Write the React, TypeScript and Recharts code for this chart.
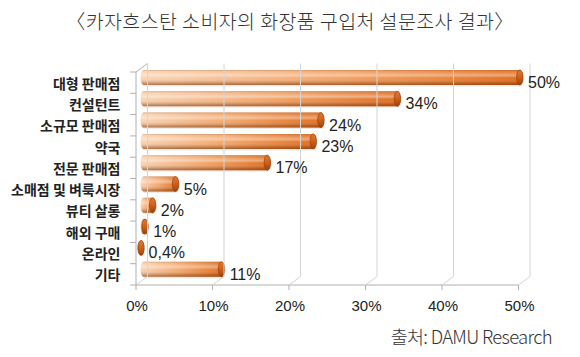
import React from 'react';
import { BarChart, Bar, XAxis, YAxis, LabelList } from 'recharts';

const categories = ['대형 판매점', '컨설턴트', '소규모 판매점', '약국', '전문 판매점', '소매점 및 벼룩시장', '뷰티 살롱', '해외 구매', '온라인', '기타'];
const shares = [50, 34, 24, 23, 17, 5, 2, 1, 0.4, 11];
const shareLabels = ['50%', '34%', '24%', '23%', '17%', '5%', '2%', '1%', '0,4%', '11%'];
const xTicks = [0, 10, 20, 30, 40, 50];
const xTickLabels = ['0%', '10%', '20%', '30%', '40%', '50%'];
const title = '〈카자흐스탄 소비자의 화장품 구입처 설문조사 결과〉';
const source = '출처: DAMU Research';

const data = categories.map((c, i) => ({ name: c, value: shares[i], label: shareLabels[i] }));

const W = 580;
const H = 357;
const MARGIN = { top: 67, right: 57, bottom: 47, left: 0 };
const Y_AXIS_W = 140.5;
const X_AXIS_H = 30;
const PLOT_H = H - MARGIN.top - MARGIN.bottom - X_AXIS_H;

// 3D offsets relative to the bar plane
const FRONT_DX = -4.5;
const FRONT_DY = 5;
const BACK_DX = 7;
const BACK_DY = -3.5;

const GRID = '#d4d4d4';
const AXIS = '#b0b0b0';
const KFONT = '"Noto Sans CJK KR", "Noto Sans", sans-serif';
const NFONT = '"Liberation Sans", Arial, sans-serif';

const XTick = (props: any) => {
  const { x, y, payload, index, width } = props;
  const fx = x + FRONT_DX;
  const fy = y + FRONT_DY;
  const bx = x + BACK_DX;
  const by = y + BACK_DY;
  const backTop = y - PLOT_H + BACK_DY;
  const label = xTickLabels[xTicks.indexOf(payload.value)] ?? `${payload.value}%`;
  return (
    <g>
      <line x1={bx} y1={by} x2={bx} y2={backTop} stroke={GRID} strokeWidth={1} />
      <line x1={fx} y1={fy} x2={bx} y2={by} stroke={GRID} strokeWidth={1} />
      {index === 0 && (
        <line x1={fx} y1={fy} x2={fx + (width || 382.5)} y2={fy} stroke={AXIS} strokeWidth={1} />
      )}
      <line x1={fx} y1={fy} x2={fx} y2={fy + 5} stroke={AXIS} strokeWidth={1} />
      <text x={fx + 1} y={fy + 20} textAnchor="middle" dominantBaseline="central" fontFamily={NFONT} fontSize={15} fill="#222">
        {label}
      </text>
    </g>
  );
};

const YTick = (props: any) => {
  const { x, y, payload, index } = props;
  const band = PLOT_H / categories.length;
  const fx = x + FRONT_DX;
  const fy = y + FRONT_DY;
  const top = fy - band / 2;
  return (
    <g>
      <line x1={fx - 6} y1={top} x2={fx} y2={top} stroke={AXIS} strokeWidth={1} />
      {index === categories.length - 1 && (
        <line x1={fx - 6} y1={top + band} x2={fx} y2={top + band} stroke={AXIS} strokeWidth={1} />
      )}
      {index === 0 && (
        <g>
          <line x1={fx} y1={top} x2={fx} y2={top + PLOT_H} stroke={AXIS} strokeWidth={1} />
          <line x1={fx} y1={top} x2={x + BACK_DX} y2={top - FRONT_DY + BACK_DY} stroke={AXIS} strokeWidth={1} />
        </g>
      )}
      <text x={fx - 15.5} y={fy} textAnchor="end" dominantBaseline="central" fontFamily={KFONT} fontWeight={700} fontSize={14} fill="#222">
        {payload.value}
      </text>
    </g>
  );
};

const CylinderBar = (props: any) => {
  const { x, y, width, height } = props;
  const w = Math.max(width, 0.5);
  const ry = height / 2;
  const capRx = 3.2;
  const rx = Math.min(capRx, w / 2);
  const cx = Math.max(x + w - capRx, x + 0.5);
  return (
    <g>
      <rect x={x + 1} y={y + 1.5} width={w} height={height} rx={rx} ry={ry} fill="#000" opacity={0.08} />
      <rect x={x} y={y} width={w} height={height} rx={rx} ry={ry} fill="url(#barH)" />
      <rect x={x} y={y} width={w} height={height} rx={rx} ry={ry} fill="url(#barV)" />
      <ellipse cx={cx} cy={y + ry} rx={capRx} ry={ry} fill="url(#barCap)" stroke="#93410e" strokeWidth={0.7} />
    </g>
  );
};

const ValueLabel = (props: any) => {
  const { x, y, width, height, index } = props;
  return (
    <text x={x + Math.max(width, 0) + 5} y={y + height / 2 + 5} dominantBaseline="central" fontFamily={NFONT} fontSize={16} fill="#222">
      {shareLabels[index]}
    </text>
  );
};

export default function App() {
  return (
    <div style={{ position: 'absolute', left: 0, top: 0, width: W, height: H, background: '#fff' }}>
      <svg width={0} height={0} style={{ position: 'absolute' }}>
        <defs>
          <linearGradient id="barH" x1="0" y1="0" x2="1" y2="0">
            <stop offset="0" stopColor="#f9d3b3" />
            <stop offset="0.5" stopColor="#f1a468" />
            <stop offset="1" stopColor="#df6c1d" />
          </linearGradient>
          <linearGradient id="barV" x1="0" y1="0" x2="0" y2="1">
            <stop offset="0" stopColor="#8a3a05" stopOpacity={0.3} />
            <stop offset="0.12" stopColor="#ffffff" stopOpacity={0.1} />
            <stop offset="0.35" stopColor="#ffffff" stopOpacity={0.4} />
            <stop offset="0.55" stopColor="#ffffff" stopOpacity={0} />
            <stop offset="0.85" stopColor="#7a3000" stopOpacity={0.3} />
            <stop offset="1" stopColor="#6a2800" stopOpacity={0.55} />
          </linearGradient>
          <linearGradient id="barCap" x1="0" y1="0" x2="0" y2="1">
            <stop offset="0" stopColor="#e27a32" />
            <stop offset="0.45" stopColor="#d2621b" />
            <stop offset="1" stopColor="#9e430c" />
          </linearGradient>
        </defs>
      </svg>
      <div
        style={{
          position: 'absolute',
          left: 0,
          top: 8,
          width: W,
          textAlign: 'center',
          fontFamily: KFONT,
          fontSize: 19.5,
          fontWeight: 300,
          letterSpacing: 0.4,
          color: '#333',
          lineHeight: '26px',
          whiteSpace: 'nowrap',
        }}
      >
        {title}
      </div>
      <BarChart width={W} height={H} data={data} layout="vertical" margin={MARGIN} barSize={15}>
        <XAxis
          type="number"
          domain={[0, 50]}
          ticks={xTicks}
          height={X_AXIS_H}
          axisLine={false}
          tickLine={false}
          tickSize={0}
          tickMargin={0}
          tick={<XTick />}
          interval={0}
        />
        <YAxis
          type="category"
          dataKey="name"
          width={Y_AXIS_W}
          axisLine={false}
          tickLine={false}
          tickSize={0}
          tickMargin={0}
          tick={<YTick />}
          interval={0}
        />
        <Bar dataKey="value" shape={<CylinderBar />} isAnimationActive={false}>
          <LabelList dataKey="label" content={<ValueLabel />} />
        </Bar>
      </BarChart>
      <div
        style={{
          position: 'absolute',
          right: 28,
          top: 323,
          fontFamily: KFONT,
          fontSize: 18.5,
          fontWeight: 300,
          color: '#333',
          letterSpacing: -0.7,
          lineHeight: '26px',
          whiteSpace: 'nowrap',
        }}
      >
        {source}
      </div>
    </div>
  );
}
